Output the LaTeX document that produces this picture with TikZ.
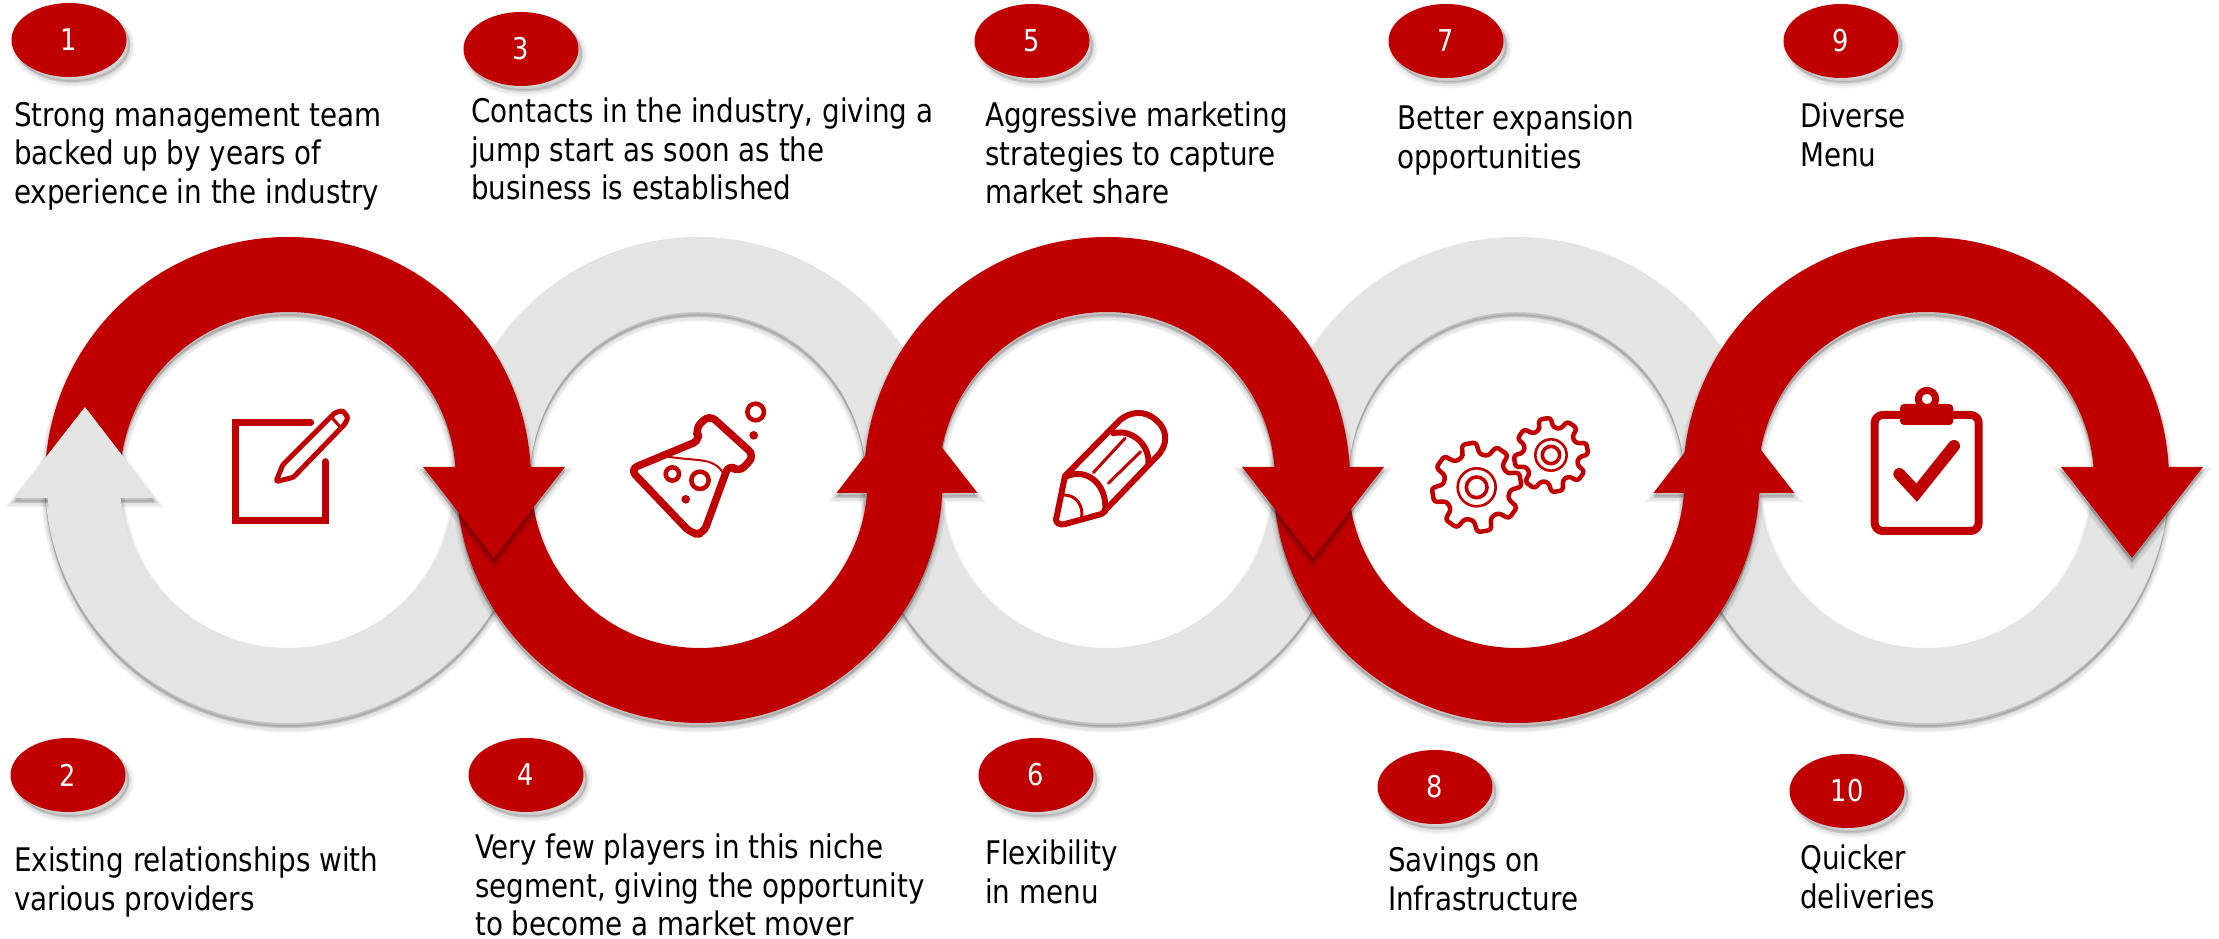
\documentclass[tikz,border=0pt]{standalone}
\usepackage{fontspec}
\setmainfont[FakeStretch=.95]{DejaVu Sans Condensed}
\usetikzlibrary{shapes.geometric}
\definecolor{ringred}{HTML}{C00000}
\definecolor{ringgray}{HTML}{E4E4E4}
\tikzset{
	softshade/.style={
		preaction={fill=black,draw=black,fill opacity=.05,draw opacity=.05,line width=9pt,transform canvas={yshift=-5pt}},
		preaction={fill=black,draw=black,fill opacity=.05,draw opacity=.05,line width=6pt,transform canvas={yshift=-5pt}},
		preaction={fill=black,draw=black,fill opacity=.06,draw opacity=.06,line width=3pt,transform canvas={yshift=-4pt}},
		preaction={fill=black,draw=black,fill opacity=.06,draw opacity=.06,line width=1pt,transform canvas={yshift=-3pt}}
	},
	redband/.style={fill=ringred,softshade},
	grayband/.style={fill=ringgray,softshade},
	badge/.style={
		ellipse,
		fill=ringred,
		text=white,
		inner sep=0pt,
		minimum width=115pt,
		minimum height=74pt,
		font=\fontsize{30}{30}\selectfont,
		preaction={fill=black,fill opacity=.04,transform canvas={shift={(4pt,-6pt)}},draw=black,draw opacity=.04,line width=9pt},
		preaction={fill=black,fill opacity=.06,transform canvas={shift={(4pt,-6pt)}},draw=black,draw opacity=.06,line width=5pt},
		preaction={fill=black,fill opacity=.08,transform canvas={shift={(3pt,-4pt)}},draw=black,draw opacity=.08,line width=2pt}
	},
	blurb/.style={
		anchor=west,
		align=left,
		inner sep=0pt,
		font=\fontsize{32.5}{38.5}\selectfont
	},
	iconline/.style={draw=ringred,line width=#1,line join=round,line cap=round},
	iconline/.default=6pt,
	iconzoom/.style={shift={(#1)},x=.3333pt,y=-.3333pt}
}
\newcommand{\TopBand}[2]{\fill[#2] (#1-243,459) arc[start angle=180,end angle=0,radius=243pt] -- (#1+168,459) arc[start angle=0,end angle=180,radius=168pt] -- cycle;}
\newcommand{\LowBand}[2]{\fill[#2] (#1-243,459) arc[start angle=180,end angle=360,radius=243pt] -- (#1+168,459) arc[start angle=360,end angle=180,radius=168pt] -- cycle;}
\newcommand{\TopArrow}[1]{\fill[redband] (#1-243,459) arc[start angle=180,end angle=3.07,radius=243pt] -- (#1+277,472) -- (#1+206,381) -- (#1+135,472) -- (#1+167.5,472) arc[start angle=4.44,end angle=180,radius=168pt] -- cycle;}
\newcommand{\LowArrow}[1]{\fill[redband] (#1-243,459) arc[start angle=180,end angle=356.93,radius=243pt] -- (#1+278,446) -- (#1+207,537) -- (#1+137,446) -- (#1+167.5,446) arc[start angle=355.56,end angle=180,radius=168pt] -- cycle;}
\newcommand{\GearIcon}[6]{
	\begin{scope}[shift={(#1,#2)}]
	\draw[iconline=4.5pt,rounded corners=3pt] (-115:#4) \foreach \a in {-100,-55,...,215} { -- (\a-9:#3) -- (\a+9:#3) -- (\a+15:#4) -- (\a+30:#4) } -- cycle;
	\draw[iconline=2.6pt] (0,0) circle[radius=#5];
	\draw[iconline=3.6pt] (0,0) circle[radius=#6];
	\end{scope}
}
\begin{document}
\begin{tikzpicture}[x=1pt,y=1pt]
\useasboundingbox (0,0) rectangle (2219,939);

% gray half rings at the back
\LowBand{288}{grayband}
\TopBand{698}{grayband}
\LowBand{1107}{grayband}
\TopBand{1516.5}{grayband}
\LowBand{1926}{grayband}

% red arrows, last one on top
\TopArrow{1926}
\LowArrow{1516.5}
\TopArrow{1107}
\LowArrow{699.5}
\TopArrow{288}

% head of the gray arrow
\fill[grayband] (14,441) -- (85,532) -- (155,441) -- cycle;
\fill[ringgray] (47.5,441) -- (120.5,441) -- (122,430) -- (49,430) -- cycle;

% badges
\node[badge] (one) at (69,899) {1};
\node[badge] (three) at (521,890) {3};
\node[badge] (five) at (1032,898) {5};
\node[badge] (seven) at (1446,898) {7};
\node[badge] (nine) at (1841,898) {9};
\node[badge] (two) at (68,164) {2};
\node[badge] (four) at (526,164) {4};
\node[badge] (six) at (1036,164) {6};
\node[badge] (eight) at (1435,152) {8};
\node[badge] (ten) at (1847,148) {10};

% texts
\node[blurb] (strongteam) at (14,783) {Strong management team\\backed up by years of\\experience in the industry};
\node[blurb] (contacts) at (471,790) {Contacts in the industry, giving a\\jump start as soon as the\\business is established};
\node[blurb] (marketing) at (985,786) {Aggressive marketing\\strategies to capture\\market share};
\node[blurb] (expansion) at (1397,799) {Better expansion\\opportunities};
\node[blurb] (menu) at (1800,804) {Diverse\\Menu};
\node[blurb] (providers) at (14,57) {Existing relationships with\\various providers};
\node[blurb] (players) at (475,54) {Very few players in this niche\\segment, giving the opportunity\\to become a market mover};
\node[blurb] (flexibility) at (985,67) {Flexibility\\in menu};
\node[blurb] (savings) at (1388,60) {Savings on\\Infrastructure};
\node[blurb] (deliveries) at (1800,62) {Quicker\\deliveries};

% note and pen
\begin{scope}[iconzoom={220,539}]
\draw[iconline=7pt,line join=miter] (272,68) -- (47,68) -- (47,362) -- (316,362) -- (316,185);
\draw[iconline=5pt,rounded corners=1.5pt] (168,245) -- (188,195) -- (345,38) -- (368,32) -- (384,52) -- (375,72) -- (220,232) -- cycle;
\draw[iconline=3pt] (335,52) -- (358,78);
\end{scope}

% flask
\begin{scope}[iconzoom={610,549}]
\draw[iconline=7.5pt,rounded corners=8pt] (60,238) -- (272,150) -- (254,118) -- (298,74) -- (434,197) -- (386,248) -- (357,222) -- (280,432) -- (245,432) -- cycle;
\draw[iconline=2pt] (175,200) .. controls (260,215) and (310,200) .. (340,250);
\draw[iconline=4.5pt] (187,252) circle[radius=20];
\draw[iconline=4.5pt] (270,271) circle[radius=26];
\draw[iconline=4.5pt] (437,66) circle[radius=25];
\fill[ringred] (227,328) circle[radius=13];
\fill[ringred] (431,136) circle[radius=13];
\end{scope}

% pencil
\begin{scope}[iconzoom={1030,539}]
\draw[iconline=6pt] (80,350) .. controls (72,368) and (90,378) .. (105,372) -- (215,342) -- (375,175) .. controls (420,135) and (410,85) .. (380,62) .. controls (345,28) and (300,35) .. (270,60) -- (105,228) -- cycle;
\draw[iconline=6pt] (250,100) .. controls (310,85) and (360,140) .. (355,190);
\draw[iconline=6pt] (108,230) .. controls (170,200) and (235,255) .. (225,335);
\draw[iconline=3pt] (190,218) -- (285,115);
\draw[iconline=3pt] (235,250) -- (332,155);
\draw[iconline=3pt] (103,285) .. controls (140,285) and (160,320) .. (155,350);
\end{scope}

% gears
\begin{scope}[iconzoom={1420,539}]
\GearIcon{170}{262}{135}{100}{57}{31}
\GearIcon{393}{165}{112}{83}{47}{26}
\end{scope}

% clipboard
\begin{scope}[iconzoom={1850,559}]
\draw[iconline=7pt] (231,57) circle[radius=26];
\draw[iconline=8pt,rounded corners=8pt] (74,105) rectangle (386,453);
\fill[ringred,rounded corners=4pt] (150,72) rectangle (310,135);
\draw[iconline=12pt,line join=miter] (148,282) -- (200,338) -- (312,198);
\end{scope}

\end{tikzpicture}
\end{document}
